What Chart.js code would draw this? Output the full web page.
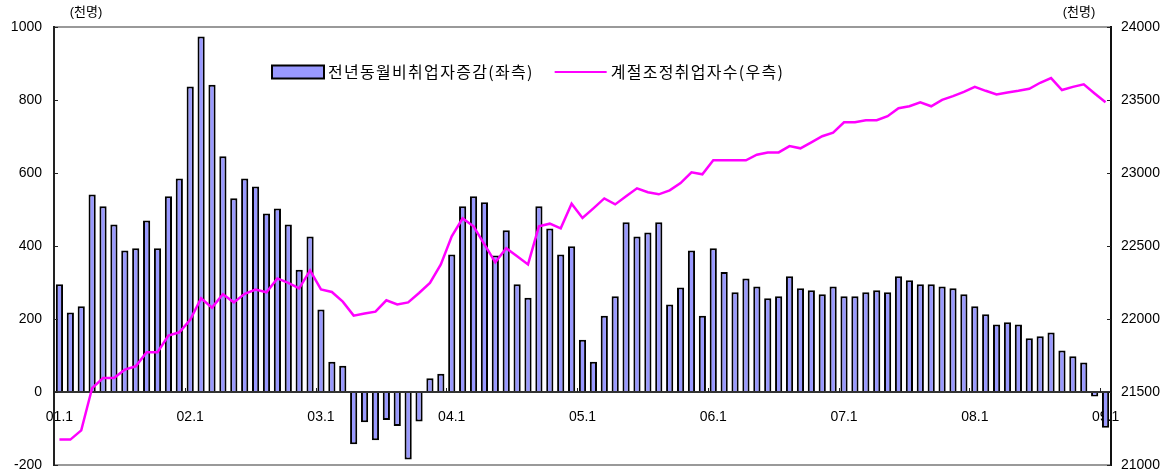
<!DOCTYPE html>
<html>
<head>
<meta charset="utf-8">
<script src="https://cdn.jsdelivr.net/npm/chart.js@4.4.1/dist/chart.umd.min.js"></script>
<style>
  html, body { margin: 0; padding: 0; background: #fff; }
</style>
</head>
<body>
<canvas id="chartEmpleo" width="1172" height="476"></canvas>
<script>
// años del eje (01.1 ... 09.1)
const anios = ['01', '02', '03', '04', '05', '06', '07', '08', '09'];
const etiquetas = [];
anios.forEach((a, i) => {
  const meses = i === anios.length - 1 ? 1 : 12;
  for (let m = 1; m <= meses; m++) etiquetas.push(a + '.' + m);
});

// 전년동월비취업자증감 (천명, eje izquierdo)
const aumentoAnual = [
  295, 218, 235, 541, 509, 459, 388, 394, 470, 394, 536, 585,
  837, 974, 842, 646, 531, 585, 563, 489, 503, 459, 335, 426,
  226, 83, 72, -143, -83, -132, -77, -93, -185, -81, 38, 50,
  377, 509, 536, 520, 374, 443, 295, 258, 509, 448, 377, 399,
  143, 83, 209, 262, 465, 426, 437, 465, 240, 286, 388, 209,
  394, 329, 273, 311, 289, 257, 262, 317, 284, 279, 268, 289,
  262, 262, 273, 279, 273, 317, 306, 295, 295, 289, 284, 268,
  235, 213, 185, 191, 185, 147, 153, 163, 114, 98, 81, -12,
  -98
];

// 계절조정취업자수 (천명, eje derecho)
const ocupadosSA = [
  21174, 21174, 21237, 21527, 21596, 21596, 21653, 21676, 21772, 21772, 21886, 21909,
  21995, 22142, 22078, 22169, 22114, 22173, 22201, 22183, 22278, 22247, 22210, 22333,
  22203, 22185, 22119, 22023, 22037, 22050, 22128, 22100, 22114, 22178, 22247, 22374,
  22566, 22689, 22635, 22511, 22388, 22484, 22429, 22374, 22635, 22653, 22621, 22790,
  22692, 22758, 22826, 22785, 22840, 22895, 22868, 22854, 22881, 22931, 23005, 22991,
  23087, 23087, 23087, 23087, 23125, 23141, 23141, 23184, 23169, 23210, 23252, 23276,
  23347, 23347, 23361, 23361, 23389, 23444, 23457, 23484, 23457, 23501, 23527, 23556,
  23590, 23563, 23538, 23552, 23563, 23577, 23618, 23650, 23568, 23590, 23607, 23545,
  23484
];

const nombreBarras = '전년동월비취업자증감(좌측)';
const nombreLinea = '계절조정취업자수(우측)';
const unidad = '(천명)';

const fuente = "'Liberation Sans', 'Noto Sans CJK KR', sans-serif";

// leyenda dentro del area del grafico
const leyendaInterna = {
  id: 'leyendaInterna',
  afterDraw(chart) {
    const ctx = chart.ctx;
    const ds = chart.data.datasets;
    const area = chart.chartArea;
    let x = area.left + 218;
    const y = area.top + 45;
    ctx.save();
    ctx.font = "16px 'Noto Sans CJK KR', sans-serif";
    ctx.letterSpacing = '1.3px';
    ctx.textBaseline = 'middle';
    ctx.fillStyle = ds[0].backgroundColor;
    ctx.fillRect(x, y - 6.5, 52, 13);
    ctx.strokeStyle = '#000';
    ctx.lineWidth = 2;
    ctx.strokeRect(x, y - 6.5, 52, 13);
    ctx.fillStyle = '#000';
    ctx.fillText(ds[0].label, x + 56, y);
    x += 56 + ctx.measureText(ds[0].label).width + 21;
    ctx.strokeStyle = ds[1].borderColor;
    ctx.lineWidth = 2;
    ctx.beginPath();
    ctx.moveTo(x, y);
    ctx.lineTo(x + 52, y);
    ctx.stroke();
    ctx.fillText(ds[1].label, x + 56, y);
    ctx.restore();
  }
};

// unidades arriba de cada eje y marcas internas
const unidadesYMarcas = {
  id: 'unidadesYMarcas',
  afterDraw(chart) {
    const { ctx, chartArea, scales } = chart;
    ctx.save();
    ctx.font = '13px ' + fuente;
    ctx.fillStyle = '#000';
    ctx.textAlign = 'center';
    ctx.textBaseline = 'middle';
    ctx.fillText(unidad, chartArea.left + 32, 12);
    ctx.fillText(unidad, chartArea.right - 32, 12);

    ctx.strokeStyle = '#222';
    ctx.lineWidth = 1;
    ctx.beginPath();
    scales.y.ticks.forEach(t => {
      const py = Math.round(scales.y.getPixelForValue(t.value)) + 0.5;
      ctx.moveTo(chartArea.left, py);
      ctx.lineTo(chartArea.left + 4, py);
    });
    scales.y1.ticks.forEach(t => {
      const py = Math.round(scales.y1.getPixelForValue(t.value)) + 0.5;
      ctx.moveTo(chartArea.right - 4, py);
      ctx.lineTo(chartArea.right, py);
    });
    const mitad = (scales.x.getPixelForValue(1) - scales.x.getPixelForValue(0)) / 2;
    const cero = scales.y.getPixelForValue(0);
    etiquetas.forEach((e, i) => {
      if (i % 12 !== 0) return;
      const px = Math.round(scales.x.getPixelForValue(i) - mitad) + 0.5;
      ctx.moveTo(px, cero);
      ctx.lineTo(px, cero - 4);
    });
    ctx.stroke();
    ctx.restore();
  }
};

// ancho fijo del eje y sin relleno extra arriba/abajo
const ajustarEje = ancho => s => {
  s.width = ancho;
  s.paddingTop = 8;
  s.paddingBottom = 8;
};

const ctx = document.getElementById('chartEmpleo').getContext('2d');
new Chart(ctx, {
  type: 'bar',
  data: {
    labels: etiquetas,
    datasets: [
      {
        type: 'bar',
        label: nombreBarras,
        data: aumentoAnual,
        yAxisID: 'y',
        backgroundColor: '#9999FF',
        borderColor: '#000',
        borderWidth: 2,
        barPercentage: 0.66,
        categoryPercentage: 1,
        order: 1
      },
      {
        type: 'line',
        label: nombreLinea,
        data: ocupadosSA,
        yAxisID: 'y1',
        borderColor: '#FF00FF',
        backgroundColor: '#FF00FF',
        borderWidth: 2.5,
        pointRadius: 0,
        tension: 0,
        fill: false,
        order: 0
      }
    ]
  },
  options: {
    responsive: false,
    animation: false,
    layout: { padding: { top: 27, bottom: 11, left: 0, right: 0 } },
    plugins: {
      legend: { display: false },
      tooltip: { enabled: false }
    },
    scales: {
      x: {
        position: { y: 0 },
        offset: true,
        afterFit: s => { s.height = 0; },
        grid: { display: false },
        border: { display: true, color: '#333', width: 2 },
        ticks: {
          autoSkip: false,
          maxRotation: 0,
          padding: 9,
          color: '#000',
          font: { family: fuente, size: 14 },
          callback: (v, i) => (i % 12 === 0 ? etiquetas[i] : '')
        }
      },
      y: {
        position: 'left',
        min: -200,
        max: 1000,
        afterFit: ajustarEje(54),
        border: { display: true, color: '#222', width: 2 },
        grid: {
          drawTicks: false,
          lineWidth: 2,
          color: c => (c.tick && (c.tick.value === 1000 || c.tick.value === -200)) ? '#999' : 'transparent'
        },
        ticks: {
          stepSize: 200,
          padding: 12,
          color: '#000',
          font: { family: fuente, size: 14 },
          callback: v => String(v)
        }
      },
      y1: {
        position: 'right',
        min: 21000,
        max: 24000,
        afterFit: ajustarEje(61),
        border: { display: true, color: '#111', width: 2 },
        grid: { drawOnChartArea: false, drawTicks: false },
        ticks: {
          stepSize: 500,
          padding: 10,
          color: '#000',
          font: { family: fuente, size: 14 },
          callback: v => String(v)
        }
      }
    }
  },
  plugins: [leyendaInterna, unidadesYMarcas]
});
</script>
</body>
</html>
